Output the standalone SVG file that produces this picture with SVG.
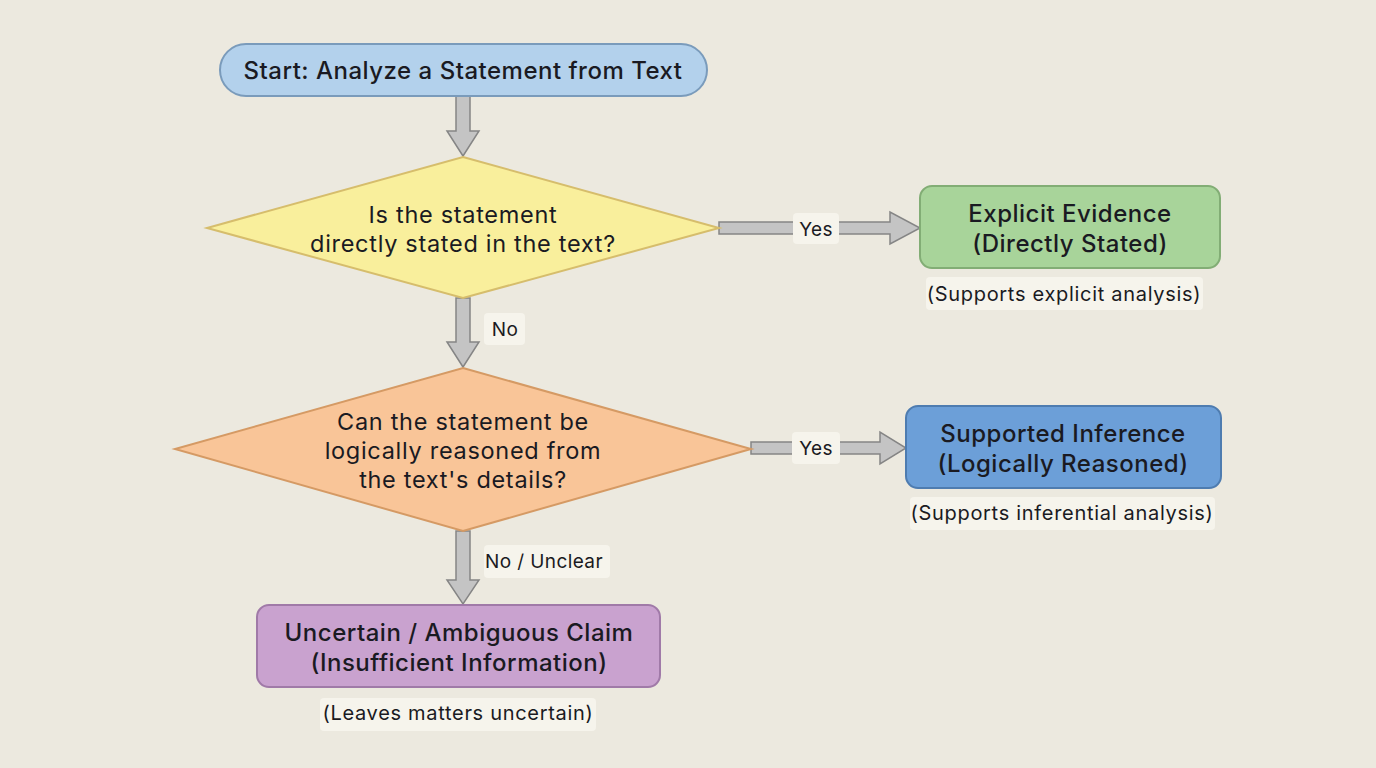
<svg xmlns="http://www.w3.org/2000/svg" width="1376" height="768" viewBox="0 0 1376 768">
<style>
text{font-family:Inter,"Noto Sans","Liberation Sans",sans-serif;fill:#1a1a22;text-anchor:middle;dominant-baseline:central;font-weight:500;letter-spacing:0.5px}
.t{font-size:24px}
.d{font-size:23.5px;font-weight:400;letter-spacing:0.7px}
.l{font-size:19px;letter-spacing:0.4px;font-weight:400}
.c{font-size:20px;font-weight:400;letter-spacing:0.7px}
.arr{fill:#c4c4c4;stroke:#858585;stroke-width:1.5;stroke-linejoin:miter}
.lb{fill:#f6f4ec}
</style>
<rect width="1376" height="768" fill="#ece9df"/>
<g id="connectors">
<path class="arr" d="M456,96 H470 V131 H479 L463,156 L447,131 H456 Z"/>
<path class="arr" d="M719,222 H890 V212 L920,228 L890,244 V234 H719 Z"/>
<g><rect class="lb" x="793" y="213" width="46" height="31" rx="4"/><text class="l" x="816" y="229">Yes</text></g>
<path class="arr" d="M456,298 H470 V342 H479 L463,367 L447,342 H456 Z"/>
<g><rect class="lb" x="484" y="313" width="41" height="32" rx="4"/><text class="l" x="505" y="329">No</text></g>
<path class="arr" d="M751,442 H880 V432 L906,448 L880,464 V454 H751 Z"/>
<g><rect class="lb" x="792" y="432" width="48" height="32" rx="4"/><text class="l" x="816" y="448">Yes</text></g>
<path class="arr" d="M456,531 H470 V580 H479 L463,604 L447,580 H456 Z"/>
<g><rect class="lb" x="484" y="545" width="126" height="33" rx="4"/><text class="l" x="544" y="561">No / Unclear</text></g>
</g>
<g id="start">
<rect x="220" y="44" width="487" height="52" rx="26" fill="#b3d1ec" stroke="#7a9bbb" stroke-width="2"/>
<text class="t" x="463" y="70">Start: Analyze a Statement from Text</text>
</g>
<g id="decision1">
<polygon points="463,157 719,228 463,298 207,228" fill="#f9ef9c" stroke="#d6bd6c" stroke-width="2"/>
<text class="d" x="463" y="214">Is the statement</text>
<text class="d" x="463" y="243">directly stated in the text?</text>
</g>
<g id="explicit">
<rect x="920" y="186" width="300" height="82" rx="12" fill="#a8d49a" stroke="#82ad75" stroke-width="2"/>
<text class="t" x="1070" y="213">Explicit Evidence</text>
<text class="t" x="1070" y="243">(Directly Stated)</text>
<rect class="lb" x="926" y="277" width="277" height="33" rx="4"/>
<text class="c" x="1064" y="294">(Supports explicit analysis)</text>
</g>
<g id="decision2">
<polygon points="463,368 751,449 463,531 175,449" fill="#f9c598" stroke="#d59a64" stroke-width="2"/>
<text class="d" x="463" y="421">Can the statement be</text>
<text class="d" x="463" y="450">logically reasoned from</text>
<text class="d" x="463" y="479">the text's details?</text>
</g>
<g id="inference">
<rect x="906" y="406" width="315" height="82" rx="12" fill="#6c9fd8" stroke="#4e7cb0" stroke-width="2"/>
<text class="t" x="1063" y="433">Supported Inference</text>
<text class="t" x="1063" y="463">(Logically Reasoned)</text>
<rect class="lb" x="910" y="497" width="305" height="33" rx="4"/>
<text class="c" x="1062" y="513">(Supports inferential analysis)</text>
</g>
<g id="uncertain">
<rect x="257" y="605" width="403" height="82" rx="12" fill="#c9a2cf" stroke="#a07aa8" stroke-width="2"/>
<text class="t" x="459" y="632">Uncertain / Ambiguous Claim</text>
<text class="t" x="459" y="662">(Insufficient Information)</text>
<rect class="lb" x="320" y="698" width="276" height="33" rx="4"/>
<text class="c" x="458" y="713">(Leaves matters uncertain)</text>
</g>
</svg>
